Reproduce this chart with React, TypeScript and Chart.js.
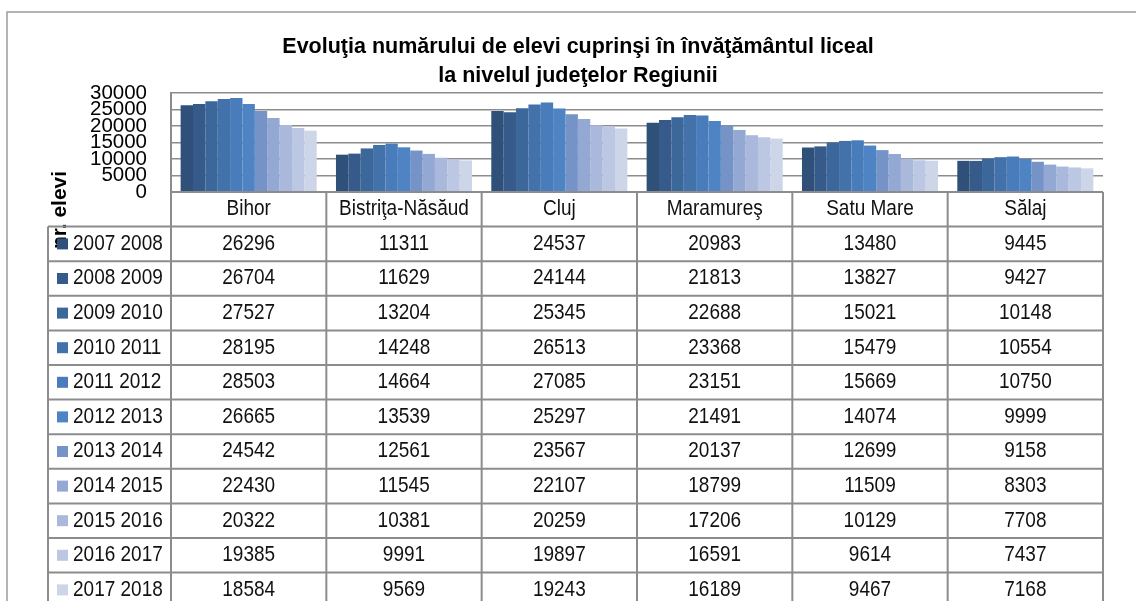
import React, { useEffect, useRef } from "react";
import { Chart, registerables } from "chart.js";

Chart.register(...registerables);

// ---- data ----
const categories = ["Bihor", "Bistriţa-Năsăud", "Cluj", "Maramureş", "Satu Mare", "Sălaj"];
const seriesLabels = [
  "2007 2008", "2008 2009", "2009 2010", "2010 2011", "2011 2012", "2012 2013",
  "2013 2014", "2014 2015", "2015 2016", "2016 2017", "2017 2018",
];
const y2007_2008 = [26296, 11311, 24537, 20983, 13480, 9445];
const y2008_2009 = [26704, 11629, 24144, 21813, 13827, 9427];
const y2009_2010 = [27527, 13204, 25345, 22688, 15021, 10148];
const y2010_2011 = [28195, 14248, 26513, 23368, 15479, 10554];
const y2011_2012 = [28503, 14664, 27085, 23151, 15669, 10750];
const y2012_2013 = [26665, 13539, 25297, 21491, 14074, 9999];
const y2013_2014 = [24542, 12561, 23567, 20137, 12699, 9158];
const y2014_2015 = [22430, 11545, 22107, 18799, 11509, 8303];
const y2015_2016 = [20322, 10381, 20259, 17206, 10129, 7708];
const y2016_2017 = [19385, 9991, 19897, 16591, 9614, 7437];
const y2017_2018 = [18584, 9569, 19243, 16189, 9467, 7168];
const seriesValues = [
  y2007_2008, y2008_2009, y2009_2010, y2010_2011, y2011_2012, y2012_2013,
  y2013_2014, y2014_2015, y2015_2016, y2016_2017, y2017_2018,
];
const yMin = 0;
const yMax = 30000;
const yStep = 5000;
const chartTitle = [
  "Evoluţia numărului de elevi cuprinşi în învăţământul liceal",
  "la nivelul judeţelor Regiunii",
];
const yAxisTitle = "nr. elevi";

// ---- styles ----
const seriesColors = [
  "#2f5078", "#365b8b", "#3c679b", "#4372ab", "#487cba", "#4e84c4",
  "#7593c6", "#93a8d2", "#a9b8db", "#bcc7e3", "#cdd5e9",
];
const W = 1136;
const H = 601;
const FONT = '"Liberation Sans", Arial, sans-serif';
const ROW_H = 34.6;
const TABLE_LEFT = 48;
const LINE_COLOR = "#8c8c8c";
const TEXT_STRETCH = 1.12;

function stretchedText(ctx: CanvasRenderingContext2D, text: string, x: number, y: number, align: CanvasTextAlign) {
  ctx.save();
  ctx.translate(x, y);
  ctx.scale(1, TEXT_STRETCH);
  ctx.textAlign = align;
  ctx.textBaseline = "middle";
  ctx.fillText(text, 0, 0);
  ctx.restore();
}

const tablePlugin = {
  id: "tablePlugin",
  beforeDraw(chart: any) {
    const ctx = chart.ctx as CanvasRenderingContext2D;
    ctx.save();
    ctx.fillStyle = "#ffffff";
    ctx.fillRect(0, 0, chart.width, chart.height);
    ctx.restore();
  },
  afterDraw(chart: any) {
    const ctx = chart.ctx as CanvasRenderingContext2D;
    const ca = chart.chartArea;
    const xs = chart.scales.x;
    const colW = xs.getPixelForValue(1) - xs.getPixelForValue(0);
    const centers = categories.map((_, i) => xs.getPixelForValue(i));
    const bounds = centers.map((c) => c - colW / 2);
    bounds.push(centers[centers.length - 1] + colW / 2);
    const top = ca.bottom;
    const bottom = chart.height;

    ctx.save();
    // outer frame
    ctx.strokeStyle = "#9c9c9c";
    ctx.lineWidth = 1.5;
    ctx.beginPath();
    ctx.moveTo(7, chart.height);
    ctx.lineTo(7, 12);
    ctx.lineTo(chart.width, 12);
    ctx.stroke();

    // title
    ctx.fillStyle = "#000";
    ctx.font = `bold 21.5px ${FONT}`;
    ctx.textAlign = "center";
    ctx.textBaseline = "middle";
    ctx.fillText(chartTitle[0], 578, 47);
    ctx.fillText(chartTitle[1], 578, 76);

    // y axis title
    ctx.save();
    ctx.translate(60, 210);
    ctx.rotate(-Math.PI / 2);
    ctx.font = `bold 21px ${FONT}`;
    ctx.fillText(yAxisTitle, 0, 0);
    ctx.restore();

    // table grid
    ctx.strokeStyle = LINE_COLOR;
    ctx.lineWidth = 2;
    ctx.beginPath();
    ctx.moveTo(bounds[0], top);
    ctx.lineTo(bounds[bounds.length - 1], top);
    for (let r = 1; r <= seriesLabels.length; r++) {
      const y = top + ROW_H * r;
      ctx.moveTo(TABLE_LEFT, y);
      ctx.lineTo(bounds[bounds.length - 1], y);
    }
    bounds.forEach((b) => {
      ctx.moveTo(b, top);
      ctx.lineTo(b, bottom);
    });
    ctx.moveTo(TABLE_LEFT, top + ROW_H);
    ctx.lineTo(TABLE_LEFT, bottom);
    ctx.stroke();

    // header labels
    ctx.fillStyle = "#111";
    ctx.font = `19px ${FONT}`;
    categories.forEach((c, i) => stretchedText(ctx, c, centers[i], top + ROW_H / 2, "center"));

    // rows
    seriesLabels.forEach((lab, r) => {
      const cy = top + ROW_H * (r + 1) + ROW_H / 2;
      ctx.fillStyle = seriesColors[r];
      ctx.fillRect(57, cy - 5.5, 11, 11);
      ctx.fillStyle = "#111";
      stretchedText(ctx, lab, 73, cy, "left");
      seriesValues[r].forEach((v, i) => stretchedText(ctx, String(v), centers[i], cy, "center"));
    });
    ctx.restore();
  },
};

export default function App() {
  const ref = useRef<HTMLCanvasElement>(null);
  useEffect(() => {
    document.body.style.margin = "0";
    const chart = new Chart(ref.current as HTMLCanvasElement, {
      type: "bar",
      data: {
        labels: categories,
        datasets: seriesLabels.map((l, i) => ({
          label: l,
          data: seriesValues[i],
          backgroundColor: seriesColors[i],
          borderWidth: 0,
          categoryPercentage: 0.876,
          barPercentage: 1,
        })),
      },
      options: {
        responsive: false,
        animation: false,
        devicePixelRatio: 1,
        layout: { padding: { top: 93, left: 0, right: 33, bottom: H - 192 } },
        plugins: { legend: { display: false }, title: { display: false }, tooltip: { enabled: false } },
        scales: {
          x: { display: false },
          y: {
            min: yMin,
            max: yMax,
            afterFit: (s: any) => {
              s.width = 171;
            },
            ticks: {
              stepSize: yStep,
              autoSkip: false,
              padding: 24,
              color: "#000",
              font: { family: FONT, size: 20.5 },
              callback: (v: any) => String(v),
            },
            grid: { color: LINE_COLOR, lineWidth: 1.5, drawTicks: false },
            border: { display: true, color: LINE_COLOR, width: 2 },
          },
        },
      },
      plugins: [tablePlugin],
    } as any);
    return () => chart.destroy();
  }, []);
  return (
    <div style={{ width: W, height: H }}>
      <canvas ref={ref} width={W} height={H} style={{ display: "block" }} />
    </div>
  );
}
